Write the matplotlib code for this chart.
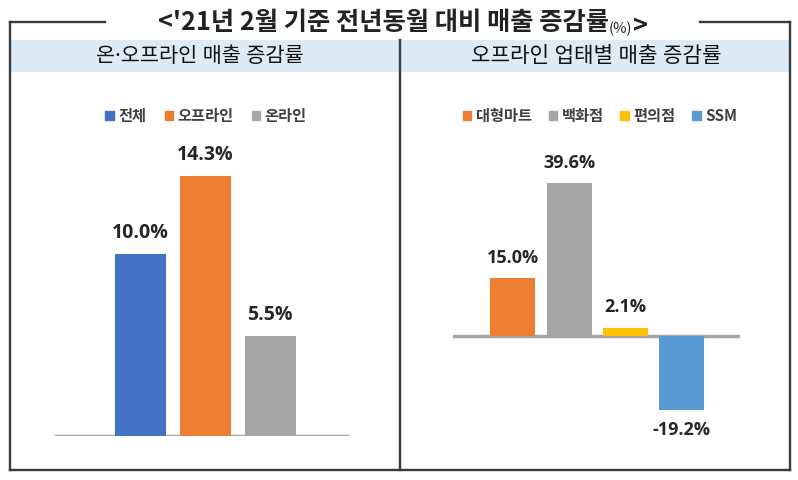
import matplotlib.pyplot as plt
from matplotlib.patches import Patch, Rectangle
from matplotlib.lines import Line2D

plt.rcParams['font.family'] = ['Noto Sans CJK KR', 'DejaVu Sans']

# data
title_main = "<'21년 2월 기준 전년동월 대비 매출 증감률"
left_title = '온·오프라인 매출 증감률'
right_title = '오프라인 업태별 매출 증감률'

left_labels = ['전체', '오프라인', '온라인']
left_values = [10.0, 14.3, 5.5]
left_colors = ['#4472C4', '#ED7D31', '#A5A5A5']

right_labels = ['대형마트', '백화점', '편의점', 'SSM']
right_values = [15.0, 39.6, 2.1, -19.2]
right_colors = ['#ED7D31', '#A5A5A5', '#FFC000', '#5B9BD5']

W, H = 798, 480
fig = plt.figure(figsize=(W / 100, H / 100), dpi=100)


def px(x, y):
    return x / W, 1 - y / H


def rect(x0, y0, x1, y1):
    return [x0 / W, 1 - y1 / H, (x1 - x0) / W, (y1 - y0) / H]


# frame, header band and title lines
frame_color = '#3a3a3a'
fig.patches.append(Rectangle(px(10, 72), 780 / W, 32 / H, transform=fig.transFigure,
                             facecolor='#DDEBF7', edgecolor='none', zorder=0))
segments = [
    ((10, 105), (22, 22)), ((700, 790), (22, 22)),
    ((10, 10), (22, 470)), ((790, 790), (22, 470)),
    ((10, 790), (470, 470)), ((400, 400), (40, 470)),
]
for xs, ys in segments:
    fig.add_artist(Line2D([x / W for x in xs], [1 - y / H for y in ys],
                          color=frame_color, lw=1.7, transform=fig.transFigure))

t1 = fig.text(*px(158, 23), title_main, fontsize=18.2, fontweight='bold',
              color='#222222', ha='left', va='center')
t2 = fig.text(0, 0, '(%)', fontsize=10.5, color='#222222')
t3 = fig.text(0, 0, '>', fontsize=18.2, fontweight='bold', color='#222222')


def chain():
    r = fig.canvas.get_renderer()
    bb = t1.get_window_extent(r).transformed(fig.transFigure.inverted())
    t2.set_position((bb.x1, bb.y0 + 0.006))
    bb2 = t2.get_window_extent(r).transformed(fig.transFigure.inverted())
    t3.set_position((bb2.x1, bb.y0 + 0.004))


hdr_font = ['Noto Sans', 'Noto Sans CJK KR']
fig.text(*px(200, 57), left_title, fontsize=15, ha='center', va='center',
         color='#111111', family=hdr_font)
fig.text(*px(596, 57), right_title, fontsize=15.3, ha='center', va='center',
         color='#111111', family=hdr_font)

# left chart
ax1 = fig.add_axes(rect(55, 150, 349, 436))
xs = range(len(left_values))
bars1 = ax1.bar(xs, left_values, width=0.79, color=left_colors)
ax1.set_xlim(-1.31, 3.21)
ax1.set_ylim(0, 286 / 18.2)
ax1.axhline(0, color='#A6A6A6', lw=2.5, zorder=0)
ax1.axis('off')
for b, v in zip(bars1, left_values):
    ax1.annotate(f'{v:.1f}%', (b.get_x() + b.get_width() / 2, v), xytext=(0, 8),
                 textcoords='offset points', ha='center', va='bottom',
                 fontsize=14, fontweight='bold', color='#262626', family='Open Sans')
handles = [Patch(color=c, label=l) for c, l in zip(left_colors, left_labels)]
fig.legend(handles=handles, loc='center', bbox_to_anchor=px(206, 116), ncol=3,
           frameon=False, handlelength=0.55, handleheight=0.55, handletextpad=0.3,
           columnspacing=1.2, prop={'size': 11, 'weight': 'bold'}, labelcolor='#404040')

# right chart
ax2 = fig.add_axes(rect(453, 170, 740, 420))
xs = range(len(right_values))
bars2 = ax2.bar(xs, right_values, width=0.8, color=right_colors)
ax2.set_xlim(-1.06, 4.03)
ax2.set_ylim(-(420 - 335.7) / 3.856, (335.7 - 170) / 3.856)
ax2.axhline(0, color='#A6A6A6', lw=2.5, zorder=0)
ax2.axis('off')
for b, v in zip(bars2, right_values):
    off = 8 if v >= 0 else -8
    ax2.annotate(f'{v:.1f}%', (b.get_x() + b.get_width() / 2, v), xytext=(0, off),
                 textcoords='offset points', ha='center',
                 va='bottom' if v >= 0 else 'top', annotation_clip=False,
                 fontsize=13, fontweight='bold', color='#262626', family='Open Sans')
handles = [Patch(color=c, label=l) for c, l in zip(right_colors, right_labels)]
fig.legend(handles=handles, loc='center', bbox_to_anchor=px(600, 116), ncol=4,
           frameon=False, handlelength=0.55, handleheight=0.55, handletextpad=0.3,
           columnspacing=1.1, prop={'size': 11, 'weight': 'bold'}, labelcolor='#404040')

fig.canvas.draw()
chain()
fig.savefig('out.png', dpi=100, facecolor='white')
